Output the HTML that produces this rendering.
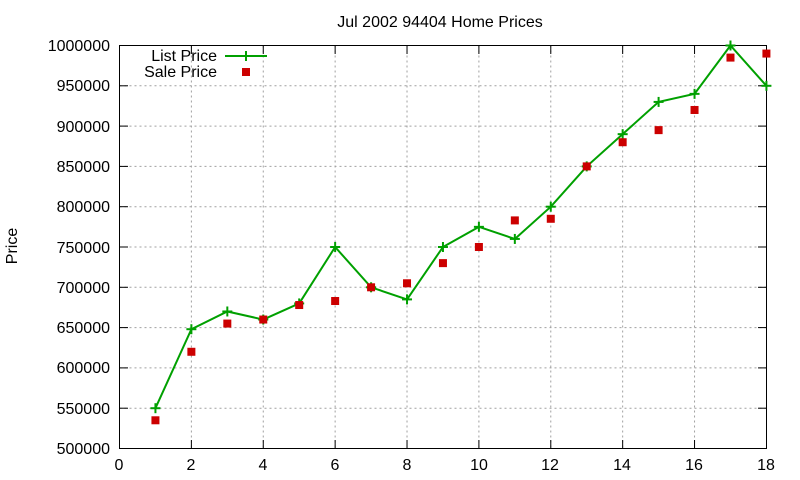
<!DOCTYPE html>
<html><head><meta charset="utf-8"><style>
html,body{margin:0;padding:0;background:#fff;}
svg{display:block;font-family:"Liberation Sans",sans-serif;font-size:16px;}
</style></head><body>
<svg id="s" width="800" height="480" xmlns="http://www.w3.org/2000/svg">
<rect width="800" height="480" fill="#fff"/>
<g id="grid" stroke="#a0a0a0" stroke-width="1" stroke-dasharray="2,3"></g>
<rect x="119.5" y="45.5" width="647" height="403" fill="none" stroke="#000"/>
<g id="ticks" stroke="#000"></g>
<text x="440" y="27" text-anchor="middle">Jul 2002 94404 Home Prices</text>
<text transform="translate(17,246) rotate(-90)" text-anchor="middle">Price</text>
<g text-anchor="end">
<text x="110" y="454">500000</text>
<text x="110" y="414">550000</text>
<text x="110" y="373">600000</text>
<text x="110" y="333">650000</text>
<text x="110" y="293">700000</text>
<text x="110" y="253">750000</text>
<text x="110" y="212">800000</text>
<text x="110" y="172">850000</text>
<text x="110" y="132">900000</text>
<text x="110" y="91">950000</text>
<text x="110" y="51">1000000</text>
</g>
<g text-anchor="middle">
<text x="119" y="470">0</text>
<text x="191" y="470">2</text>
<text x="263" y="470">4</text>
<text x="335" y="470">6</text>
<text x="407" y="470">8</text>
<text x="479" y="470">10</text>
<text x="550" y="470">12</text>
<text x="622" y="470">14</text>
<text x="694" y="470">16</text>
<text x="766" y="470">18</text>
</g>
<text x="217" y="61" text-anchor="end">List Price</text>
<text x="217" y="77" text-anchor="end">Sale Price</text>
<line x1="225" y1="56" x2="267" y2="56" stroke="#00a000" stroke-width="2"/>
<path d="M246 51v10M241 56h10" stroke="#00a000" stroke-width="2"/>
<rect x="242" y="68" width="8" height="8" fill="#cc0000"/>
<polyline id="lp" fill="none" stroke="#00a000" stroke-width="2"/>
<g id="pts"></g>
</svg>
<script>
var L=[550000,648000,670000,660000,680000,750000,700000,685000,750000,775000,760000,800000,850000,890000,930000,940000,1000000,950000];
var S=[535000,620000,655000,660000,678000,683000,700000,705000,730000,750000,783000,785000,850000,880000,895000,920000,985000,990000];
function X(i){return 119.5+35.94*i}function Y(v){return 448.5-(v-500000)/50000*40.3}
var ns="http://www.w3.org/2000/svg",g=document.getElementById('grid'),t=document.getElementById('ticks'),p=document.getElementById('pts');
function ln(par,a,b,c,d,st){var e=document.createElementNS(ns,'line');e.setAttribute('x1',a);e.setAttribute('y1',b);e.setAttribute('x2',c);e.setAttribute('y2',d);if(st)e.setAttribute('stroke',st);e.setAttribute('stroke-width',st?2:1);par.appendChild(e);}
for(var v=550000;v<1000000;v+=50000){var y=Y(v);ln(g,119.5,y,766.5,y);ln(t,119.5,y,128,y);ln(t,758,y,766.5,y);}
for(var i=2;i<18;i+=2){var x=X(i);ln(g,x,45.5,x,448.5);ln(t,x,448.5,x,440);ln(t,x,45.5,x,54);}
var pts=[];for(var i=0;i<18;i++){var x=X(i+1),y=Y(L[i]);pts.push(x+','+y);
ln(p,x-5,y,x+5,y,'#00a000');ln(p,x,y-5,x,y+5,'#00a000');
var r=document.createElementNS(ns,'rect');r.setAttribute('x',x-4);r.setAttribute('y',Y(S[i])-4);r.setAttribute('width',8);r.setAttribute('height',8);r.setAttribute('fill','#cc0000');p.appendChild(r);}
document.getElementById('lp').setAttribute('points',pts.join(' '));
</script>
</body></html>
